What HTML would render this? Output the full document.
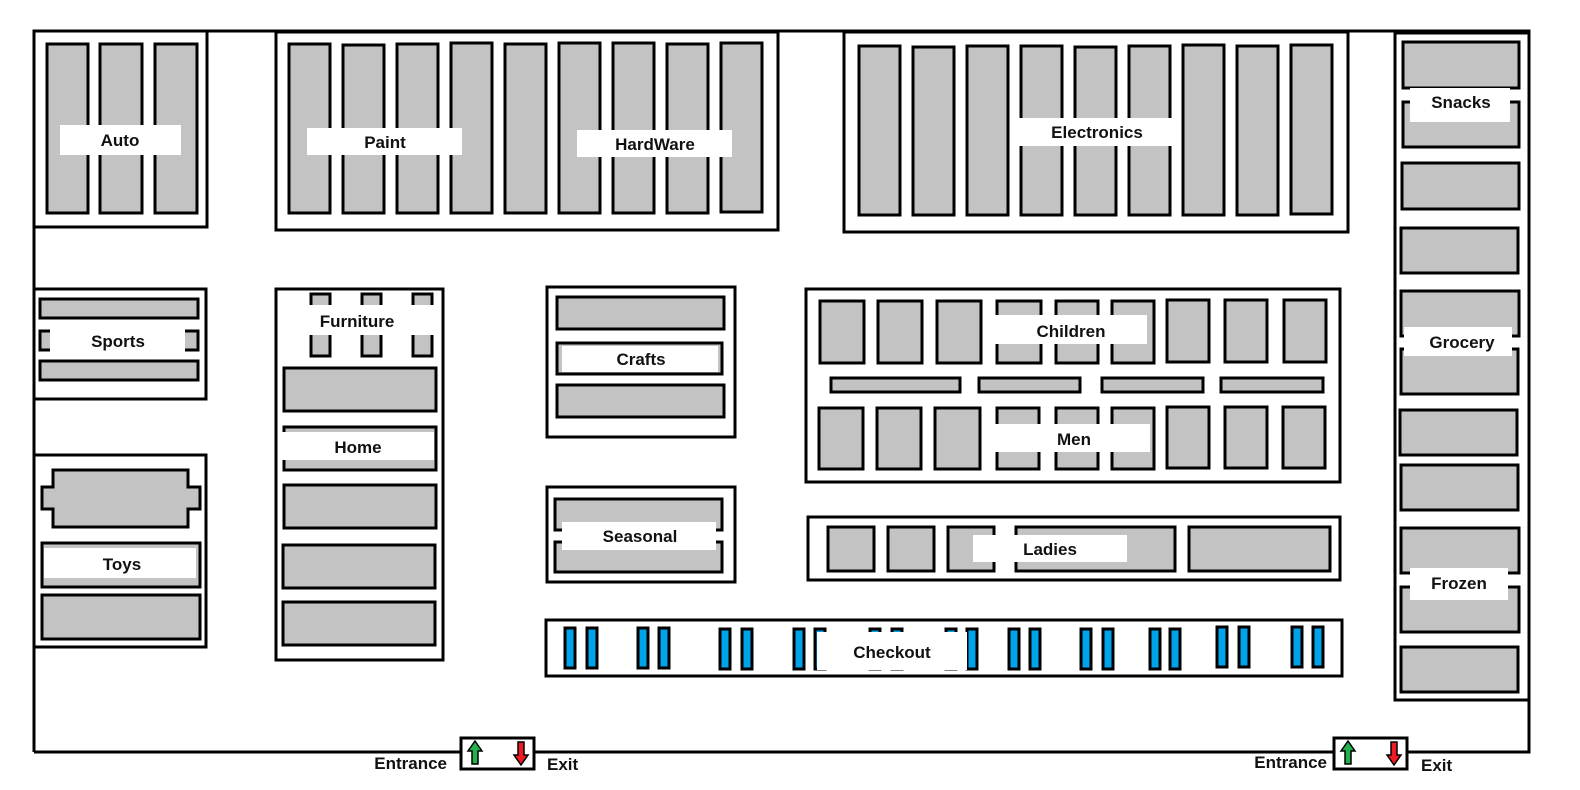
<!DOCTYPE html>
<html><head><meta charset="utf-8"><style>
html,body{margin:0;padding:0;background:#fff;}
svg{display:block;}
text{font-family:"Liberation Sans",sans-serif;font-weight:bold;font-size:17px;fill:#111;}
</style></head><body>
<svg width="1580" height="790" viewBox="0 0 1580 790" xmlns="http://www.w3.org/2000/svg">
<g fill="none" stroke="#000" stroke-width="3">
<polyline points="34,752 34,31 1529,31 1529,752 34,752"/>
</g>
<g stroke="#000" stroke-width="3" fill="#c3c3c3">
<!-- Auto -->
<rect x="34" y="31" width="173" height="196" fill="#fff"/>
<rect x="47" y="44" width="41" height="169"/><rect x="100" y="44" width="42" height="169"/><rect x="155" y="44" width="42" height="169"/>
<!-- Paint/Hardware -->
<rect x="276" y="32" width="502" height="198" fill="#fff"/>
<rect x="289" y="44" width="41" height="169"/><rect x="343" y="45" width="41" height="168"/><rect x="397" y="44" width="41" height="169"/><rect x="451" y="43" width="41" height="170"/><rect x="505" y="44" width="41" height="169"/><rect x="559" y="43" width="41" height="170"/><rect x="613" y="43" width="41" height="170"/><rect x="667" y="44" width="41" height="169"/><rect x="721" y="43" width="41" height="169"/>
<!-- Electronics -->
<rect x="844" y="32" width="504" height="200" fill="#fff"/>
<rect x="859" y="46" width="41" height="169"/><rect x="913" y="47" width="41" height="168"/><rect x="967" y="46" width="41" height="169"/><rect x="1021" y="46" width="41" height="169"/><rect x="1075" y="47" width="41" height="168"/><rect x="1129" y="46" width="41" height="169"/><rect x="1183" y="45" width="41" height="170"/><rect x="1237" y="46" width="41" height="169"/><rect x="1291" y="45" width="41" height="169"/>
<!-- Right column -->
<rect x="1395" y="33" width="134" height="667" fill="#fff"/>
<rect x="1403" y="42" width="116" height="46"/><rect x="1403" y="102" width="116" height="45"/><rect x="1402" y="163" width="117" height="46"/><rect x="1401" y="228" width="117" height="45"/><rect x="1401" y="291" width="118" height="45"/><rect x="1401" y="349" width="117" height="45"/><rect x="1400" y="410" width="117" height="45"/><rect x="1401" y="465" width="117" height="45"/><rect x="1401" y="528" width="118" height="45"/><rect x="1401" y="587" width="118" height="45"/><rect x="1401" y="647" width="117" height="45"/>
<!-- Sports -->
<rect x="34" y="289" width="172" height="110" fill="#fff"/>
<rect x="40" y="299" width="158" height="19"/><rect x="40" y="331" width="158" height="19"/><rect x="40" y="361" width="158" height="19"/>
<!-- Furniture/Home -->
<rect x="276" y="289" width="167" height="371" fill="#fff"/>
<rect x="311" y="294" width="19" height="62"/><rect x="362" y="294" width="19" height="62"/><rect x="413" y="294" width="19" height="62"/>
<rect x="284" y="368" width="152" height="43"/><rect x="284" y="427" width="152" height="43"/><rect x="284" y="485" width="152" height="43"/><rect x="283" y="545" width="152" height="43"/><rect x="283" y="602" width="152" height="43"/>
<!-- Toys -->
<rect x="34" y="455" width="172" height="192" fill="#fff"/>
<polygon points="53,470 188,470 188,487 200,487 200,509 188,509 188,527 53,527 53,509 42,509 42,487 53,487"/>
<rect x="42" y="543" width="158" height="44"/><rect x="42" y="595" width="158" height="44"/>
<!-- Crafts -->
<rect x="547" y="287" width="188" height="150" fill="#fff"/>
<rect x="557" y="297" width="167" height="32"/><rect x="557" y="343" width="165" height="31"/><rect x="557" y="385" width="167" height="32"/>
<!-- Seasonal -->
<rect x="547" y="487" width="188" height="95" fill="#fff"/>
<rect x="555" y="499" width="167" height="31"/><rect x="555" y="542" width="167" height="30"/>
<!-- Children/Men -->
<rect x="806" y="289" width="534" height="193" fill="#fff"/>
<rect x="820" y="301" width="44" height="62"/><rect x="878" y="301" width="44" height="62"/><rect x="937" y="301" width="44" height="62"/><rect x="997" y="301" width="44" height="62"/><rect x="1056" y="301" width="42" height="62"/><rect x="1112" y="301" width="42" height="62"/><rect x="1167" y="300" width="42" height="62"/><rect x="1225" y="300" width="42" height="62"/><rect x="1284" y="300" width="42" height="62"/>
<rect x="831" y="378" width="129" height="14"/><rect x="979" y="378" width="101" height="14"/><rect x="1102" y="378" width="101" height="14"/><rect x="1221" y="378" width="102" height="14"/>
<rect x="819" y="408" width="44" height="61"/><rect x="877" y="408" width="44" height="61"/><rect x="935" y="408" width="45" height="61"/><rect x="997" y="408" width="42" height="61"/><rect x="1056" y="408" width="42" height="61"/><rect x="1112" y="408" width="42" height="61"/><rect x="1167" y="407" width="42" height="61"/><rect x="1225" y="407" width="42" height="61"/><rect x="1283" y="407" width="42" height="61"/>
<!-- Ladies -->
<rect x="808" y="517" width="532" height="63" fill="#fff"/>
<rect x="828" y="527" width="46" height="44"/><rect x="888" y="527" width="46" height="44"/><rect x="948" y="527" width="46" height="44"/><rect x="1016" y="527" width="159" height="44"/><rect x="1189" y="527" width="141" height="44"/>
<!-- Checkout -->
<rect x="546" y="620" width="796" height="56" fill="#fff"/>
</g>
<g stroke="#000" stroke-width="3" fill="#00a2e8">
<rect x="565" y="628" width="10" height="40"/><rect x="587" y="628" width="10" height="40"/>
<rect x="638" y="628" width="10" height="40"/><rect x="659" y="628" width="10" height="40"/>
<rect x="720" y="629" width="10" height="40"/><rect x="742" y="629" width="10" height="40"/>
<rect x="794" y="629" width="10" height="40"/><rect x="815" y="629" width="10" height="40"/>
<rect x="870" y="629" width="10" height="40"/><rect x="892" y="629" width="10" height="40"/>
<rect x="946" y="629" width="10" height="40"/><rect x="967" y="629" width="10" height="40"/>
<rect x="1009" y="629" width="10" height="40"/><rect x="1030" y="629" width="10" height="40"/>
<rect x="1081" y="629" width="10" height="40"/><rect x="1103" y="629" width="10" height="40"/>
<rect x="1150" y="629" width="10" height="40"/><rect x="1170" y="629" width="10" height="40"/>
<rect x="1217" y="627" width="10" height="40"/><rect x="1239" y="627" width="10" height="40"/>
<rect x="1292" y="627" width="10" height="40"/><rect x="1313" y="627" width="10" height="40"/>
</g>
<!-- label backgrounds -->
<g fill="#fff">
<rect x="60" y="125" width="121" height="30"/>
<rect x="307" y="128" width="155" height="27"/>
<rect x="577" y="130" width="155" height="27"/>
<rect x="1017" y="118" width="158" height="28"/>
<rect x="1410" y="88" width="100" height="34"/>
<rect x="1404" y="327" width="108" height="29"/>
<rect x="1410" y="568" width="98" height="32"/>
<rect x="50" y="326" width="135" height="28"/>
<rect x="300" y="305" width="135" height="30"/>
<rect x="282" y="432" width="152" height="28"/>
<rect x="44" y="548" width="152" height="30"/>
<rect x="562" y="346" width="156" height="26"/>
<rect x="562" y="522" width="154" height="28"/>
<rect x="995" y="315" width="152" height="29"/>
<rect x="995" y="424" width="155" height="28"/>
<rect x="973" y="535" width="154" height="27"/>
<rect x="817" y="632" width="150" height="38"/>
</g>
<g text-anchor="middle">
<text x="120" y="146">Auto</text>
<text x="385" y="148">Paint</text>
<text x="655" y="150">HardWare</text>
<text x="1097" y="138">Electronics</text>
<text x="1461" y="108">Snacks</text>
<text x="1462" y="348">Grocery</text>
<text x="1459" y="589">Frozen</text>
<text x="118" y="347">Sports</text>
<text x="357" y="327">Furniture</text>
<text x="358" y="453">Home</text>
<text x="122" y="570">Toys</text>
<text x="641" y="365">Crafts</text>
<text x="640" y="542">Seasonal</text>
<text x="1071" y="337">Children</text>
<text x="1074" y="445">Men</text>
<text x="1050" y="555">Ladies</text>
<text x="892" y="658">Checkout</text>
</g>
<!-- doors -->
<g stroke="#000" stroke-width="3" fill="#fff">
<rect x="461" y="738" width="73" height="31"/>
<rect x="1334" y="738" width="73" height="31"/>
</g>
<g stroke="#000" stroke-width="1.5">
<polygon points="475,741 482,751 478,751 478,764 472,764 472,751 468,751" fill="#22b14c"/>
<polygon points="521,765 528,755 524,755 524,742 518,742 518,755 514,755" fill="#ed1c24"/>
<polygon points="1348,741 1355,751 1351,751 1351,764 1345,764 1345,751 1341,751" fill="#22b14c"/>
<polygon points="1394,765 1401,755 1397,755 1397,742 1391,742 1391,755 1387,755" fill="#ed1c24"/>
</g>
<text x="447" y="769" text-anchor="end">Entrance</text>
<text x="547" y="770">Exit</text>
<text x="1327" y="768" text-anchor="end">Entrance</text>
<text x="1421" y="771">Exit</text>
</svg>
</body></html>
